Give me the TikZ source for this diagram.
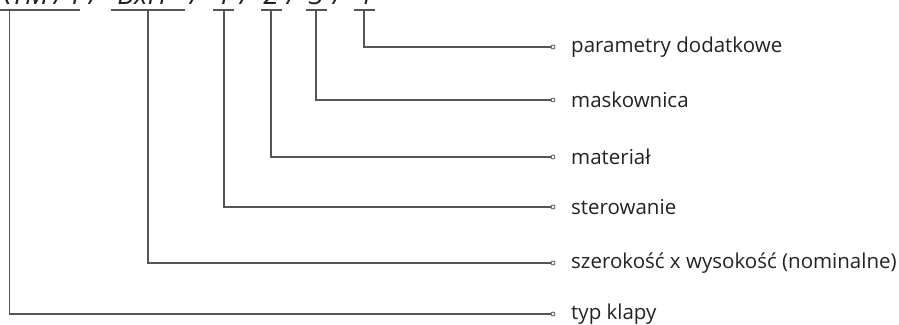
\documentclass[tikz,border=0pt]{standalone}
\usepackage{fontspec}
\setmainfont{Open Sans}
\definecolor{ln}{HTML}{555555}
\definecolor{tx}{HTML}{222222}
\begin{document}
\begin{tikzpicture}[x=1pt,y=-1pt,
  conn/.style={draw=ln,line width=1.1pt},
  endring/.style={circle,draw=ln,line width=0.8pt,fill=white,inner sep=0pt,minimum size=4pt},
  lbl/.style={anchor=west,text=tx,font=\fontsize{20.5}{24}\selectfont,inner sep=0pt},
  code/.style={anchor=base,text=tx,font=\fontsize{28}{30}\selectfont\itshape,inner sep=0pt}
]
\useasboundingbox (0,0) rectangle (899,324);
\clip (0,0) rectangle (899,324);
% cut-off code line
\node[code] (c1) at (22,4.5) {KTM};
\node[code] (s1) at (59,4.5) {/};
\node[code] (c1b) at (75,4.5) {1};
\node[code] (s2) at (94,4.5) {/};
\node[code] (c2) at (142,4.5) {BxH};
\node[code] (s3) at (195,4.5) {/};
\node[code] (c3) at (224,4.5) {1};
\node[code] (s4) at (245,4.5) {/};
\node[code] (c4) at (271,4.5) {2};
\node[code] (s5) at (292,4.5) {/};
\node[code] (c5) at (316,4.5) {3};
\node[code] (s6) at (338,4.5) {/};
\node[code] (c6) at (364,4.5) {4};
% brackets
\coordinate (b1l) at (0,10);   \coordinate (b1r) at (80,10);  \coordinate (t1) at (9.5,10);
\coordinate (b2l) at (111,10); \coordinate (b2r) at (185,10); \coordinate (t2) at (148,10);
\coordinate (b3l) at (213,10); \coordinate (b3r) at (234,10); \coordinate (t3) at (224,10);
\coordinate (b4l) at (261,10); \coordinate (b4r) at (282,10); \coordinate (t4) at (271,10);
\coordinate (b5l) at (306,10); \coordinate (b5r) at (327,10); \coordinate (t5) at (316,10);
\coordinate (b6l) at (354,10); \coordinate (b6r) at (375,10); \coordinate (t6) at (364,10);
\foreach \i in {1,...,6} {\draw[conn] (b\i l) -- (b\i r);}
% end rings
\node[endring] (e6) at (553,47) {};
\node[endring] (e5) at (553,100) {};
\node[endring] (e4) at (553,157) {};
\node[endring] (e3) at (553,207) {};
\node[endring] (e2) at (553,263) {};
\node[endring] (e1) at (553,314) {};
\draw[conn] (t6) |- (e6.west);
\draw[conn] (t5) |- (e5.west);
\draw[conn] (t4) |- (e4.west);
\draw[conn] (t3) |- (e3.west);
\draw[conn] (t2) |- (e2.west);
\draw[conn] (t1) |- (e1.west);
% labels
\node[lbl] (l6) at (571,47) {parametry dodatkowe};
\node[lbl] (l5) at (571,100) {maskownica};
\node[lbl] (l4) at (571,157) {materiał};
\node[lbl] (l3) at (571,207) {sterowanie};
\node[lbl] (l2) at (571,263) {szerokość x wysokość (nominalne)};
\node[lbl] (l1) at (571,314) {typ klapy};
\end{tikzpicture}
\end{document}
